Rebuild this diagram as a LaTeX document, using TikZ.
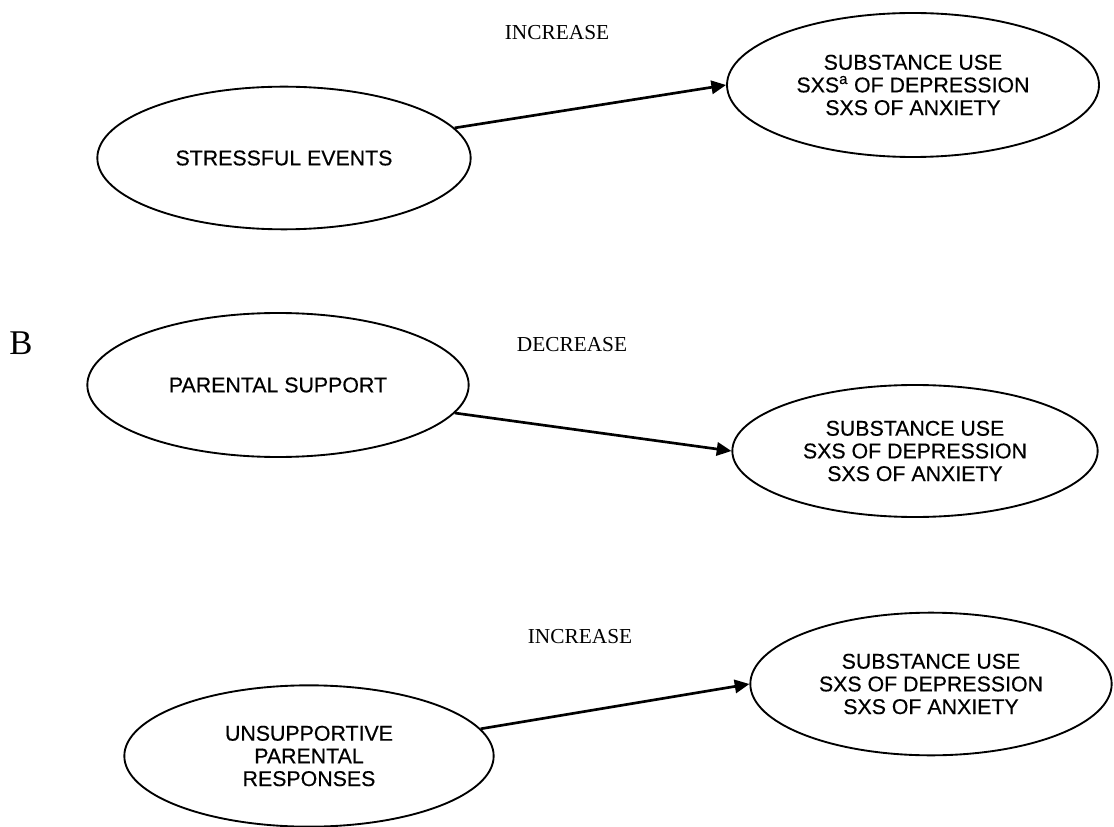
\documentclass[tikz,border=0pt]{standalone}
\usepackage{fontspec}
\setmainfont{Liberation Serif}
\setsansfont{Liberation Sans}[FakeBold=0.4]
\usetikzlibrary{shapes.geometric,arrows.meta}
\tikzset{
  oval/.style={draw, ellipse, line width=1.4pt, inner sep=0pt, align=center,
    font=\sffamily\fontsize{16}{17}\selectfont},
  effect/.style={font=\rmfamily\fontsize{16}{18}\selectfont},
  link/.style={line width=2pt, -{Triangle[length=11pt,width=10pt]}},
}
\begin{document}
\begin{tikzpicture}[x=0.75pt,y=-0.75pt]
\useasboundingbox (0,0) rectangle (1114,827);
% panel A
\node[oval, minimum width=280pt, minimum height=107pt] (stress) at (284,158) {STRESSFUL EVENTS};
\node[oval, minimum width=279pt, minimum height=108pt] (outA) at (913,85)
  {SUBSTANCE USE\\SXS\textsuperscript{a} OF DEPRESSION\\SXS OF ANXIETY};
\node[effect] (incA) at (557,33) {INCREASE};
\draw[link] (stress.10.5) -- (outA.west);
% panel B
\node[font=\rmfamily\fontsize{26}{28}\selectfont] (labB) at (21,343) {B};
\node[oval, minimum width=286pt, minimum height=108pt] (support) at (278,385) {PARENTAL SUPPORT};
\node[oval, minimum width=274pt, minimum height=99pt] (outB) at (915,451)
  {SUBSTANCE USE\\SXS OF DEPRESSION\\SXS OF ANXIETY};
\node[effect] (decB) at (572,345) {DECREASE};
\draw[link] (support.-9) -- (outB.west);
% panel C
\node[oval, minimum width=277pt, minimum height=106pt] (unsup) at (309,756)
  {UNSUPPORTIVE\\PARENTAL\\RESPONSES};
\node[oval, minimum width=271pt, minimum height=107pt] (outC) at (931,684)
  {SUBSTANCE USE\\SXS OF DEPRESSION\\SXS OF ANXIETY};
\node[effect] (incC) at (580,637) {INCREASE};
\draw[link] (unsup.9.6) -- (outC.west);
\end{tikzpicture}
\end{document}
